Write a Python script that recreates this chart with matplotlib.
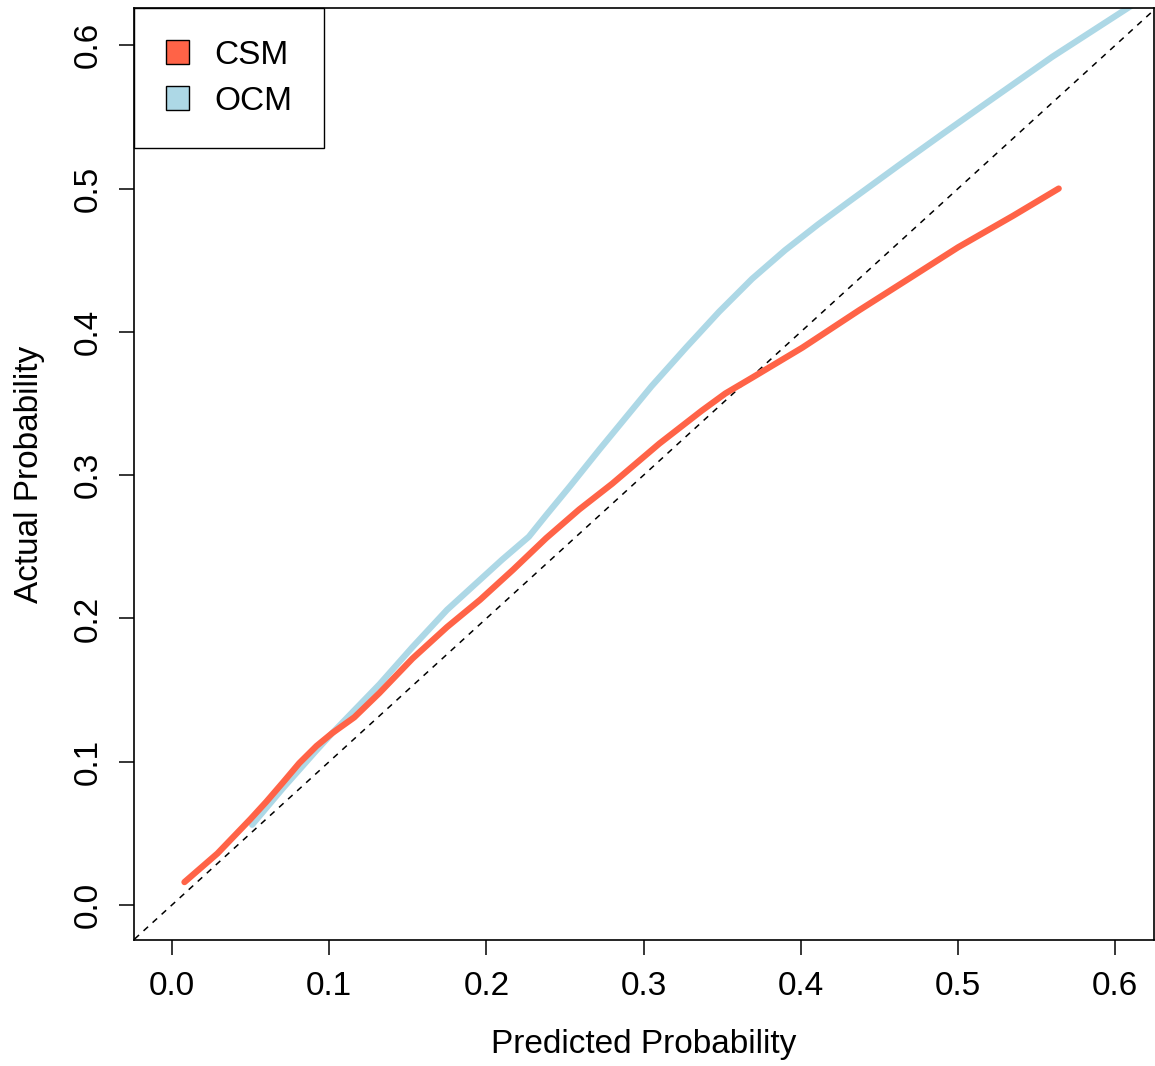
import numpy as np
import matplotlib.pyplot as plt
from matplotlib.patches import Patch

plt.rcParams['font.family'] = ['Liberation Sans', 'DejaVu Sans']

# calibration curves
csm_x = [0.008, 0.029, 0.050, 0.060, 0.071, 0.081, 0.092, 0.102, 0.116, 0.132, 0.153,
         0.175, 0.196, 0.217, 0.238, 0.259, 0.280, 0.310, 0.337, 0.352, 0.369, 0.401,
         0.437, 0.470, 0.500, 0.535, 0.564]
csm_y = [0.016, 0.036, 0.060, 0.072, 0.086, 0.099, 0.111, 0.120, 0.131, 0.148, 0.172,
         0.194, 0.213, 0.234, 0.256, 0.276, 0.294, 0.322, 0.345, 0.357, 0.368, 0.389,
         0.415, 0.438, 0.459, 0.481, 0.500]
ocm_x = [0.051, 0.071, 0.092, 0.102, 0.132, 0.153, 0.175, 0.196, 0.210, 0.227, 0.238,
         0.253, 0.272, 0.284, 0.305, 0.327, 0.348, 0.369, 0.390, 0.411, 0.432, 0.462,
         0.490, 0.521, 0.560, 0.615]
ocm_y = [0.056, 0.082, 0.108, 0.120, 0.154, 0.180, 0.206, 0.227, 0.241, 0.257, 0.272,
         0.292, 0.318, 0.334, 0.362, 0.389, 0.414, 0.437, 0.457, 0.475, 0.492, 0.516,
         0.538, 0.562, 0.592, 0.631]

fig = plt.figure(figsize=(11.55, 10.66), dpi=100)
ax = fig.add_axes([0.116, 0.1182, 0.883, 0.8743])

ax.set_xlim(-0.0241, 0.6245)
ax.set_ylim(-0.0244, 0.6260)

ax.plot([-1, 1], [-1, 1], color='black', lw=1.1, ls=(0, (4, 4)), zorder=1)
ax.plot(csm_x, csm_y, color='tomato', lw=4.5, solid_capstyle='round',
        solid_joinstyle='round', zorder=3)
ax.plot(ocm_x, ocm_y, color='lightblue', lw=4.5, solid_capstyle='round',
        solid_joinstyle='round', zorder=2)

ticks = [0.0, 0.1, 0.2, 0.3, 0.4, 0.5, 0.6]
ax.set_xticks(ticks)
ax.set_xticklabels([f'{t:.1f}' for t in ticks])
ax.set_yticks(ticks)
ax.set_yticklabels([f'{t:.1f}' for t in ticks], rotation=90, va='center')
ax.tick_params(direction='out', length=11, width=1.1, labelsize=24, pad=11)
for s in ax.spines.values():
    s.set_linewidth(1.2)

ax.set_xlabel('Predicted Probability', fontsize=24, labelpad=20)
ax.set_ylabel('Actual Probability', fontsize=24, labelpad=20)

handles = [Patch(facecolor='tomato', edgecolor='black', lw=1.0, label='CSM'),
           Patch(facecolor='lightblue', edgecolor='black', lw=1.0, label='OCM')]
leg = ax.legend(handles=handles, loc='upper left', borderaxespad=0, fontsize=24,
                fancybox=False, edgecolor='black', framealpha=1,
                handlelength=0.7, handleheight=0.7, handletextpad=0.75,
                borderpad=0.95, labelspacing=0.45)
leg.get_frame().set_linewidth(1.0)

fig.savefig('out.png', dpi=100)
